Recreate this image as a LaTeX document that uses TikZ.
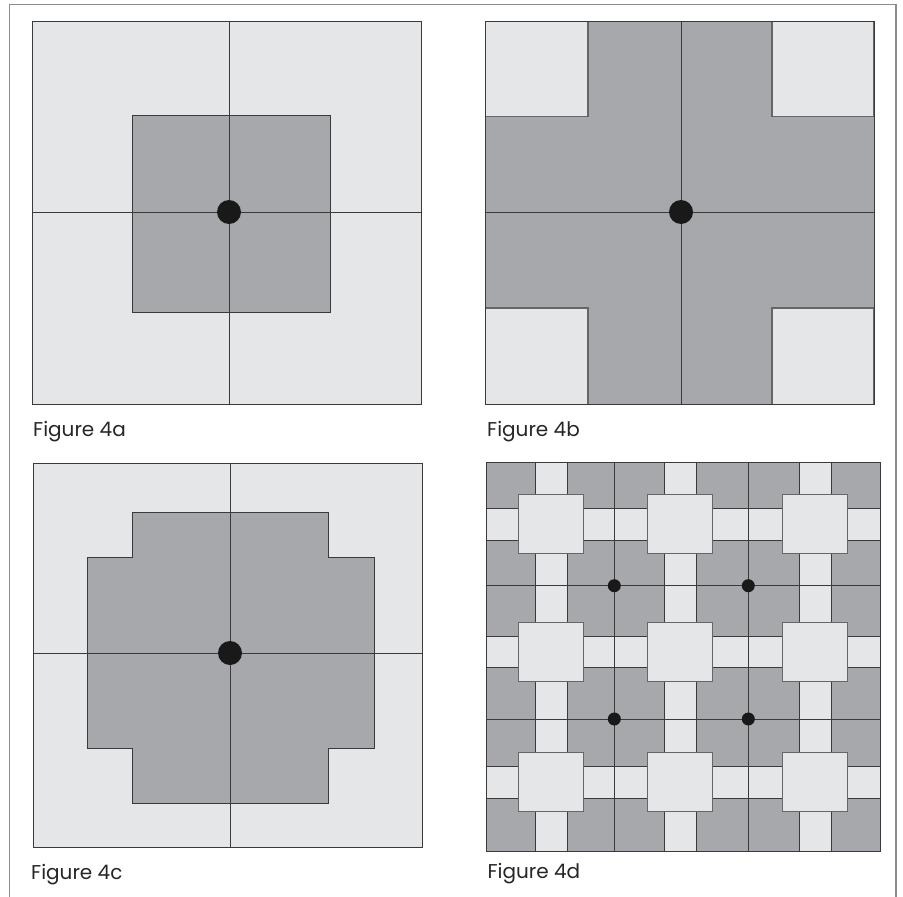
\documentclass[tikz,border=0pt]{standalone}
\usepackage{fontspec}
\setmainfont{Poppins}
\usetikzlibrary{positioning}
\definecolor{tilelight}{HTML}{E5E6E8}
\definecolor{tiledark}{HTML}{A7A8AC}
\definecolor{edgegray}{HTML}{3A3A3A}
\definecolor{framegray}{HTML}{8C8C8C}

\begin{document}
\begin{tikzpicture}[x=1pt,y=-1pt,
    edge/.style={draw=edgegray,line width=1pt},
    lightpart/.style={edge,fill=tilelight},
    darkpart/.style={edge,fill=tiledark},
    bigsquare/.style={draw=black!60,line width=1.1pt,fill=tilelight},
    axisline/.style={draw=edgegray,line width=0.9pt},
    centredot/.style={fill=black!90},
    caption/.style={anchor=base west,inner sep=0pt,font=\fontsize{20}{24}\selectfont,text=black!85}]
  \useasboundingbox (0,0) rectangle (903,897);
  % frame
  \draw[framegray,line width=1.5pt] (9.3,897) -- (9.3,4.7) -- (896,4.7) -- (896,897);

  % Figure 4a
  \coordinate (ctrA) at (229,212);
  \path[lightpart] (32.3,21.3) rectangle (421.3,404.3);
  \path[darkpart] (132,115) rectangle (330,312);
  \draw[axisline] (229,21.3) -- (229,404.3) (32.3,212) -- (421.3,212);
  \fill[centredot] (ctrA) circle (12);
  \node[caption] (capA) at (33,436) {Figure 4a};

  % Figure 4b
  \coordinate (ctrB) at (681,212);
  \path[darkpart] (485.7,21.3) rectangle (874,404.3);
  \path[bigsquare] (485.7,21.3) rectangle (588,116.7);
  \path[bigsquare] (772,21.3) rectangle (874,116.7);
  \path[bigsquare] (485.7,308) rectangle (588,404.3);
  \path[bigsquare] (772,308) rectangle (874,404.3);
  \draw[axisline] (681,21.3) -- (681,404.3) (485.7,212) -- (874,212);
  \path[edge] (485.7,21.3) rectangle (874,404.3);
  \fill[centredot] (ctrB) circle (12);
  \node[caption] (capB) at (487,436) {Figure 4b};

  % Figure 4c
  \coordinate (ctrC) at (230,653);
  \path[lightpart] (33.3,463.7) rectangle (422.3,847.3);
  \path[darkpart] (132.7,512) -- (328,512) -- (328,557.3) -- (374,557.3) -- (374,748)
    -- (328,748) -- (328,803.3) -- (132.7,803.3) -- (132.7,748) -- (87.3,748)
    -- (87.3,557.3) -- (132.7,557.3) -- cycle;
  \draw[axisline] (230,463.7) -- (230,847.3) (33.3,653) -- (422.3,653);
  \fill[centredot] (ctrC) circle (12);
  \node[caption] (capC) at (31,879) {Figure 4c};

  % Figure 4d
  \path[darkpart] (486.5,462.3) rectangle (880.3,851.7);
  \foreach \cy in {524.3,652,782.2}
    \path[lightpart] (486.5,\cy-15.8) rectangle (880.3,\cy+15.8);
  \foreach \cx in {551.2,680.4,815.1}
    \path[lightpart] (\cx-16,462.3) rectangle (\cx+16,851.7);
  \foreach \gx in {614.3,748.3}
    \draw[axisline] (\gx,462.3) -- (\gx,851.7);
  \foreach \gy in {585.7,719}
    \draw[axisline] (486.5,\gy) -- (880.3,\gy);
  \foreach \cx in {551.2,680.4,815.1}
    \foreach \cy in {524.3,652,782.2}
      \path[bigsquare] (\cx-32.5,\cy-29.5) rectangle (\cx+32.5,\cy+29.5);
  \foreach \gx in {614.3,748.3}
    \foreach \gy in {585.7,719}
      \fill[centredot] (\gx,\gy) circle (6.5);
  \path[edge] (486.5,462.3) rectangle (880.3,851.7);
  \node[caption] (capD) at (487.3,878.5) {Figure 4d};
\end{tikzpicture}
\end{document}
